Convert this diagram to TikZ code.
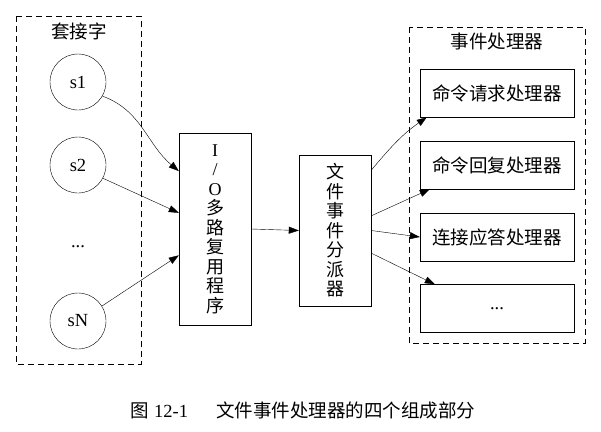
\documentclass[tikz,border=0pt]{standalone}
\usepackage{fontspec}
\setmainfont{Liberation Serif}
\newfontfamily\cjk{Noto Sans CJK SC}
\usetikzlibrary{arrows.meta}
\tikzstyle{sock}=[draw=black, shape=circle, minimum size=56pt, inner sep=0pt]
\tikzstyle{proc}=[draw=black, shape=rectangle, minimum width=72pt, inner sep=0pt, align=center, font=\fontsize{18pt}{19.5pt}\selectfont]
\tikzstyle{handler}=[draw=black, shape=rectangle, minimum width=154pt, minimum height=48pt, inner sep=0pt, font=\fontsize{18.5pt}{22pt}\selectfont\cjk]
\tikzstyle{cluster}=[draw=black, dash pattern=on 6pt off 4pt]
\tikzstyle{edge}=[draw=black, -{Triangle[length=10pt,width=7pt]}]
\pgfdeclarelayer{nodelayer}
\pgfdeclarelayer{edgelayer}
\pgfsetlayers{main,nodelayer,edgelayer}

\begin{document}
\begin{tikzpicture}[x=1pt, y=-1pt, line width=0.9pt, every node/.style={font=\fontsize{18.5pt}{22pt}\selectfont}]
	\useasboundingbox (0,0) rectangle (601,431);
	% clusters
	\draw[cluster] (16,16) rectangle (141,364);
	\draw[cluster] (409,27) rectangle (585,343);
	\begin{pgfonlayer}{nodelayer}
		\node (socktitle) at (79,31) {\cjk 套接字};
		\node [style=sock] (s1) at (78,82) {s1};
		\node [style=sock] (s2) at (78,165) {s2};
		\node (sdots) at (78,247) {...};
		\node [style=sock] (sN) at (78,321) {sN};
		\node [style=proc, minimum height=192pt] (io) at (215,229) {I\\/\\O\\{\cjk 多}\\{\cjk 路}\\{\cjk 复}\\{\cjk 用}\\{\cjk 程}\\{\cjk 序}};
		\node [style=proc, minimum height=151pt] (disp) at (335,230.5) {\cjk 文\\\cjk 件\\\cjk 事\\\cjk 件\\\cjk 分\\\cjk 派\\\cjk 器};
		\node (handtitle) at (497,41) {\cjk 事件处理器};
		\node [style=handler] (h1) at (497,93) {命令请求处理器};
		\node [style=handler] (h2) at (497,165) {命令回复处理器};
		\node [style=handler] (h3) at (497,237) {连接应答处理器};
		\node [style=handler] (h4) at (497,308.5) {\rmfamily ...};
		\node (caption) at (303,410) {{\cjk 图} 12-1\hspace{28pt}{\cjk 文件事件处理器的四个组成部分}};
	\end{pgfonlayer}
	\begin{pgfonlayer}{edgelayer}
		\draw [style=edge] (s1.-30) to[out=-20, in=140] (io.122);
		\draw [style=edge] (s2.-28) -- (io.156);
		\draw [style=edge] (sN.32) -- (io.216);
		\draw [style=edge] (io.east) -- (disp.west);
		\draw [style=edge] (disp.59) to[out=50, in=215] ([xshift=7pt]h1.south west);
		\draw [style=edge] (disp.22) -- ([xshift=10pt]h2.south west);
		\draw [style=edge] (disp.east) -- (h3.west);
		\draw [style=edge] (disp.-32) -- ([xshift=15pt]h4.north west);
	\end{pgfonlayer}
\end{tikzpicture}
\end{document}
